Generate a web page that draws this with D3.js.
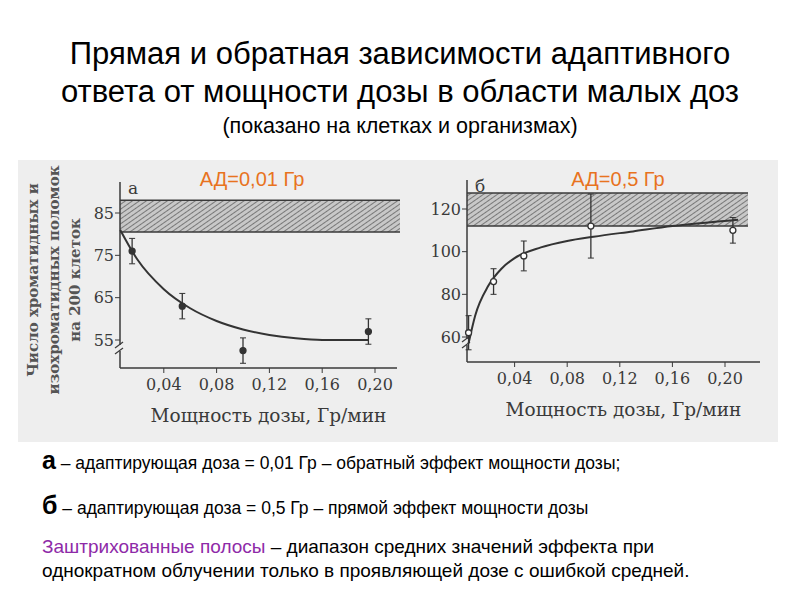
<!DOCTYPE html>
<html><head><meta charset="utf-8">
<script src="https://cdn.jsdelivr.net/npm/d3@7"></script>
<style>body{margin:0;background:#fff}</style>
</head><body>
<script>
// panel a data
const xTicks = [0.04, 0.08, 0.12, 0.16, 0.20];
const aTicks = [55, 65, 75, 85];
const aBand = [80.5, 88];
const aPoints = [[0.016, 76, 3], [0.054, 63, 3], [0.100, 52.5, 3], [0.195, 57, 3]];
const aCurve = [[0.007,81],[0.02,74],[0.04,67],[0.06,62.5],[0.08,59.5],[0.10,57.5],[0.12,56.2],[0.14,55.4],[0.16,55],[0.195,55]];
// panel b data
const bTicks = [60, 80, 100, 120];
const bBand = [112, 127.5];
const bPoints = [[0.005, 62, 8], [0.024, 86, 6], [0.047, 98, 7], [0.098, 112, 15], [0.206, 110, 6]];
const bCurve = [[0.005,57],[0.01,70],[0.02,84],[0.03,92],[0.04,97],[0.06,102],[0.08,105],[0.10,107],[0.13,109.5],[0.16,112],[0.21,115]];

const svg = d3.select("body").append("svg").attr("width", 800).attr("height", 600);
const serif = "'DejaVu Serif', 'Liberation Serif', serif";
const sans = "'Liberation Sans', Arial, sans-serif";
const ink = "#3a3a3a";

// title
[["Прямая и обратная зависимости адаптивного", 64, 31], ["ответа от мощности дозы в области малых доз", 102, 31], ["(показано на клетках и организмах)", 133, 21.5]]
  .forEach(([t, y, s]) => svg.append("text").attr("x", 400).attr("y", y).attr("text-anchor", "middle")
    .attr("font-family", sans).attr("font-size", s).text(t));

svg.append("rect").attr("x", 18).attr("y", 160).attr("width", 760).attr("height", 282).attr("fill", "#eeeeee");

const defs = svg.append("defs");
const pat = defs.append("pattern").attr("id", "hatch").attr("width", 4).attr("height", 4)
  .attr("patternUnits", "userSpaceOnUse").attr("patternTransform", "rotate(-35)");
pat.append("rect").attr("width", 4).attr("height", 4).attr("fill", "#c8c8c8");
pat.append("line").attr("x1", 0).attr("y1", 0).attr("x2", 4).attr("y2", 0).attr("stroke", "#555").attr("stroke-width", 1.4);

function panel(o) {
  const x = d3.scaleLinear().domain([0, 0.20]).range([o.x0, o.x20]);
  const y = d3.scaleLinear().domain(o.ydom).range(o.yrange);
  const g = svg.append("g");
  const xMin = o.axisX, xMax = o.axisEnd;
  // band
  g.append("rect").attr("x", xMin).attr("width", o.bandEnd - xMin)
    .attr("y", y(o.band[1])).attr("height", y(o.band[0]) - y(o.band[1]))
    .attr("fill", "url(#hatch)");
  [o.band[0], o.band[1]].forEach(v => g.append("line").attr("x1", xMin).attr("x2", o.bandEnd)
    .attr("y1", y(v)).attr("y2", y(v)).attr("stroke", ink).attr("stroke-width", 1.5));
  // axes
  g.append("line").attr("x1", xMin).attr("x2", xMin).attr("y1", o.axisTop).attr("y2", o.axisBottom).attr("stroke", ink).attr("stroke-width", 1.5);
  g.append("line").attr("x1", xMin).attr("x2", xMax).attr("y1", o.axisBottom).attr("y2", o.axisBottom).attr("stroke", ink).attr("stroke-width", 1.5);
  const brk = o.axisBottom - 18;
  g.append("rect").attr("x", xMin - 4).attr("y", brk - 5).attr("width", 8).attr("height", 6).attr("fill", "#eeeeee");
  [-5, 1].forEach(d => g.append("line").attr("x1", xMin - 5).attr("x2", xMin + 3).attr("y1", brk + d + 3).attr("y2", brk + d - 3).attr("stroke", ink).attr("stroke-width", 1.2));
  // ticks
  g.selectAll(".yt").data(o.ticks).join("g").each(function(v) {
    const s = d3.select(this);
    s.append("line").attr("x1", xMin - 5).attr("x2", xMin).attr("y1", y(v)).attr("y2", y(v)).attr("stroke", ink);
    s.append("text").attr("x", xMin - 6).attr("y", y(v)).attr("dy", "0.35em").attr("text-anchor", "end")
      .attr("font-family", serif).attr("font-size", 16).attr("fill", ink).text(v);
  });
  g.selectAll(".xt").data(xTicks).join("g").each(function(v) {
    const s = d3.select(this);
    s.append("line").attr("x1", x(v)).attr("x2", x(v)).attr("y1", o.axisBottom).attr("y2", o.axisBottom + 5).attr("stroke", ink);
    s.append("text").attr("x", x(v)).attr("y", o.axisBottom + 22).attr("text-anchor", "middle")
      .attr("font-family", serif).attr("font-size", 16).attr("fill", ink).text(v.toFixed(2).replace(".", ","));
  });
  g.append("text").attr("x", (xMin + xMax) / 2 + 10).attr("y", o.axisBottom + 54).attr("text-anchor", "middle")
    .attr("font-family", serif).attr("font-size", 18.5).attr("fill", ink).text("Мощность дозы, Гр/мин");
  g.append("text").attr("x", xMin + 8).attr("y", o.axisTop + 12).attr("font-family", serif).attr("font-size", 17).attr("fill", ink).text(o.letter);
  // curve
  g.append("path").datum(o.curve).attr("fill", "none").attr("stroke", "#333").attr("stroke-width", 2)
    .attr("d", d3.line().x(d => x(d[0])).y(d => y(d[1])).curve(d3.curveMonotoneX));
  // points
  o.points.forEach(([px, py, e]) => {
    g.append("line").attr("x1", x(px)).attr("x2", x(px)).attr("y1", y(py - e)).attr("y2", y(py + e)).attr("stroke", "#333").attr("stroke-width", 1.3);
    [py - e, py + e].forEach(v => g.append("line").attr("x1", x(px) - 3).attr("x2", x(px) + 3).attr("y1", y(v)).attr("y2", y(v)).attr("stroke", "#333"));
    g.append("circle").attr("cx", x(px)).attr("cy", y(py)).attr("r", 3)
      .attr("fill", o.open ? "#fff" : "#333").attr("stroke", "#333").attr("stroke-width", 1.3);
  });
  g.append("text").attr("x", o.adX).attr("y", 186).attr("text-anchor", "middle").attr("font-family", sans)
    .attr("font-size", 20).attr("fill", "#e8731e").text(o.ad);
}

panel({x0: 111, x20: 375, ydom: [55, 85], yrange: [340, 213], axisX: 120, axisEnd: 397, axisTop: 182, axisBottom: 368,
  bandEnd: 400, band: aBand, ticks: aTicks, points: aPoints, curve: aCurve, open: false, letter: "а", ad: "АД=0,01 Гр", adX: 252});
panel({x0: 462, x20: 725, ydom: [60, 120], yrange: [337, 209], axisX: 467, axisEnd: 760, axisTop: 180, axisBottom: 362,
  bandEnd: 748, band: bBand, ticks: bTicks, points: bPoints, curve: bCurve, open: true, letter: "б", ad: "АД=0,5 Гр", adX: 618});

// y label
const yl = svg.append("text").attr("transform", "translate(38,280) rotate(-90)").attr("text-anchor", "middle")
  .attr("font-family", serif).attr("font-size", 15).attr("font-weight", "bold").attr("fill", "#555");
[["Число хроматидных и", 0], ["изохроматидных поломок", 21], ["на 200 клеток", 42]]
  .forEach(([t, dy]) => yl.append("tspan").attr("x", 0).attr("y", dy).text(t));

// captions
const cap = (y, parts, size) => {
  const t = svg.append("text").attr("x", 42).attr("y", y).attr("font-family", sans).attr("font-size", size || 19.5);
  parts.forEach(([s, st]) => t.append("tspan").attr("font-weight", st && st.b ? "bold" : null)
    .attr("font-size", st && st.fs ? st.fs : null).attr("fill", st && st.c ? st.c : "#000").text(s));
};
cap(469, [["а", {b: true, fs: 25}], [" – адаптирующая доза = 0,01 Гр – обратный эффект мощности дозы;"]], 17.5);
cap(514, [["б", {b: true, fs: 25}], [" – адаптирующая доза = 0,5 Гр – прямой эффект мощности дозы"]], 17.5);
cap(553, [["Заштрихованные полосы", {c: "#8e2aa8"}], [" – диапазон средних значений эффекта при"]], 19);
cap(577, [["однократном облучении только в проявляющей дозе с ошибкой средней."]], 19);
</script>
</body></html>
